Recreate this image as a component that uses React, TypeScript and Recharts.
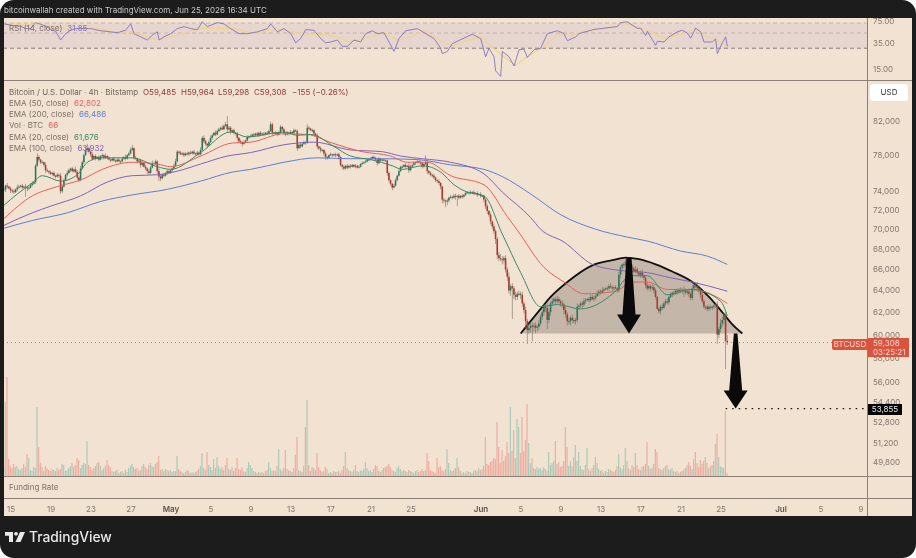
import {
  ComposedChart, Bar, Line, Area, XAxis, YAxis,
  ReferenceLine, ReferenceArea, ReferenceDot,
} from "recharts";

// 4h closes, USD, Bitstamp BTC/USD, one per bar
const closes = [
  74200,74600,74500,74300,74100,74000,73900,74200,74400,74500,74600,74400,74500,74400,74300,74400,74700,74800,75000,76800,
  77800,77500,77200,77200,76900,76300,76200,76100,75900,76000,75700,75600,75800,75700,74000,74500,75200,75800,76000,76300,
  76500,76200,76400,76100,75500,75200,76500,77200,78000,78600,78800,78400,78100,77600,77900,77600,77800,77500,77900,78000,
  77700,77900,77700,77500,77400,77600,77400,77300,77500,77300,77300,77600,77800,77600,78000,78200,78600,78800,77700,77600,
  77300,77400,76900,77100,76700,76500,76200,76000,76600,77100,77000,77300,76200,75600,75400,75800,75700,76000,76200,76000,
  76300,76500,76800,77300,78400,78300,78100,78200,78000,78200,78100,78300,78200,78400,78200,78100,78300,78100,78600,80000,
  79600,79300,79100,79500,80000,80300,80600,80400,80800,81000,81200,81000,81400,81600,81000,81200,80700,80900,80600,80500,
  80000,79600,79500,79300,79500,79700,80100,80200,80200,80400,80300,80500,80300,80600,80400,80500,80400,80600,80500,80800,
  81600,80600,80500,80600,80400,80600,81300,81000,80600,80400,80600,80500,80700,80600,80900,80800,78800,79200,79000,79300,
  79500,79400,81200,81100,80900,80900,80500,80300,79000,78800,78600,78600,78200,77800,77700,78000,78100,78000,78100,78000,
  78100,77800,76900,76700,76500,76800,76600,76800,76700,76900,76700,76800,76600,76700,77000,77100,77200,77300,77500,77500,
  77600,77800,77700,77500,77100,77600,77400,77500,77400,77400,76000,75200,74800,74400,74600,75200,75700,76200,76700,76700,
  76900,76700,76800,76300,76700,76900,77100,77200,77300,77200,77100,76700,77000,77200,76200,76000,75800,75700,75500,75200,
  75100,74900,74500,73100,73000,72900,73000,73300,73400,73300,73500,73400,73500,73300,73500,73400,73600,73800,73900,73800,
  73900,73900,73800,73800,73600,73700,73500,73500,73100,72400,71900,71500,70800,70300,69800,69000,67400,67100,67000,66900,
  67100,66000,65300,64000,64400,64200,63600,63400,63700,63700,63600,62800,62200,61200,60400,60600,60800,60700,60800,60600,
  60700,61000,61600,62000,62500,62400,61300,62000,62800,63000,63200,63000,63200,63000,62800,62700,62200,61800,61200,61200,
  61500,61300,61200,61300,62500,62600,62800,62700,63000,63100,63200,63100,63400,63200,63300,63500,63700,63900,63800,64000,
  64100,64200,64200,64400,64300,64200,64300,64200,64000,65500,66200,66500,66400,66800,67000,66000,66200,66100,65800,66000,
  65700,65500,65700,65400,65200,64500,64200,64400,64200,64300,64000,63400,62300,62100,62500,62400,62800,63000,62900,63400,
  63600,63800,63700,64000,63900,64100,64000,64100,64000,63800,63900,63700,63300,64200,64500,64400,64200,64000,63600,63000,
  62500,62500,62300,62500,62400,62500,62600,62700,60000,60500,61000,61300,61800,59460,59308,
];

// upper and lower shadow of each bar, in hundreds of USD
const wickUp = [
  2,1,3,1,2,1,2,1,3,2,1,2,1,3,2,1,2,3,1,2,
  4,2,1,2,1,3,2,1,2,1,2,1,2,1,3,2,2,1,3,2,
  1,2,1,3,2,1,3,2,2,4,5,2,1,3,1,2,1,2,1,2,
  1,3,1,2,1,1,2,1,1,2,1,2,1,3,1,2,3,4,1,2,
  1,2,1,2,1,2,1,2,2,3,1,2,1,3,2,1,2,1,2,1,
  2,1,2,3,2,1,2,1,2,1,2,1,2,1,2,1,2,1,3,2,
  3,2,1,2,3,2,1,3,2,2,1,3,2,3,10,2,2,1,2,1,
  2,1,2,1,2,1,2,1,2,1,2,1,2,1,2,1,2,1,2,2,
  3,2,1,2,1,2,2,1,2,1,2,1,2,1,2,1,2,1,2,1,
  2,1,4,2,1,2,1,1,2,1,2,1,1,2,1,1,2,1,1,2,
  1,2,1,1,2,1,2,1,2,1,1,2,1,2,1,2,1,2,1,1,
  2,1,2,1,1,2,1,1,1,1,1,2,1,1,2,2,1,2,1,2,
  1,2,1,3,2,1,2,1,2,1,2,1,1,8,2,1,2,1,2,1,
  1,2,1,1,2,1,2,1,2,1,2,2,1,2,1,2,1,2,1,1,
  2,1,2,1,2,1,2,1,1,2,2,1,2,1,3,2,2,3,4,3,
  2,3,2,4,2,3,2,3,2,3,2,3,2,3,2,4,3,3,2,3,
  2,3,2,2,3,2,4,3,2,3,2,2,3,2,2,3,2,3,2,3,
  2,3,2,2,3,1,2,2,3,2,1,2,2,3,2,2,3,2,2,3,
  2,1,2,2,3,2,1,2,1,3,2,1,2,3,2,2,2,3,2,3,
  2,1,2,3,2,1,3,2,2,3,2,2,1,2,2,3,2,2,3,1,
  2,1,2,1,2,1,2,1,3,2,2,3,2,3,2,2,4,3,2,3,
  2,1,2,1,2,1,2,1,3,2,4,3,2,2,5,
];
const wickDown = [
  2,3,2,1,3,2,2,1,2,2,1,2,1,10,3,2,1,2,1,2,
  1,2,2,1,2,3,1,2,1,2,1,2,1,2,3,2,1,1,2,1,
  2,1,2,1,3,2,1,1,2,1,2,1,3,2,1,2,1,2,1,1,
  2,1,2,1,2,1,1,2,1,1,2,1,1,2,1,1,1,1,2,1,
  2,1,3,2,1,2,3,2,1,1,2,1,3,5,3,1,2,1,2,1,
  1,2,1,1,1,2,1,1,2,1,1,2,1,1,2,1,1,2,1,1,
  2,2,3,1,1,2,1,2,1,1,2,1,1,1,3,1,3,1,2,2,
  3,2,2,3,1,1,1,2,1,1,2,1,1,2,1,1,2,1,1,1,
  1,3,1,1,2,1,1,2,3,2,1,2,1,2,1,1,3,1,2,1,
  1,2,1,2,1,2,3,1,3,2,3,2,3,3,2,1,1,2,1,2,
  1,3,2,3,2,1,2,1,2,1,1,2,1,1,1,1,1,1,1,1,
  1,1,2,2,3,1,2,1,1,1,3,2,2,3,1,1,1,1,1,2,
  1,2,1,3,1,1,1,2,1,1,2,2,1,1,3,2,2,2,2,2,
  2,2,3,4,3,6,4,2,1,2,1,3,10,2,1,2,1,1,1,2,
  1,1,2,1,2,1,2,1,3,3,3,2,3,3,3,5,4,3,2,4,
  3,3,4,3,5,28,4,3,3,2,4,3,3,6,12,3,4,13,4,5,
  3,3,2,3,3,4,8,3,3,2,2,3,2,2,3,3,4,3,4,3,
  4,3,2,3,2,3,2,3,2,2,1,2,2,1,2,2,1,2,2,1,
  2,1,2,2,1,3,2,1,2,2,3,2,3,2,2,3,2,2,2,2,
  2,2,3,2,2,3,2,2,3,2,3,2,1,2,3,2,1,2,2,2,
  1,2,2,1,3,2,2,3,6,2,2,3,2,2,3,2,3,2,3,2,
  2,3,2,2,2,2,2,2,8,3,3,3,4,24,2,
];

// Bitstamp volume per bar, BTC
const volumes = [
  200,1480,1980,340,200,160,240,180,200,140,120,160,240,180,440,360,120,100,180,160,
  1380,580,260,180,100,200,160,120,100,140,120,100,160,120,140,240,220,100,120,160,
  200,260,180,220,360,320,160,220,260,240,700,220,180,120,160,200,260,280,200,120,
  160,200,320,220,180,100,80,100,120,60,80,100,60,120,80,160,200,240,180,140,
  160,100,120,200,240,180,140,220,260,200,180,240,280,400,120,140,100,140,120,100,
  120,80,100,100,400,140,100,80,60,80,120,100,60,80,60,80,100,140,200,460,
  160,120,480,220,180,120,340,160,380,200,140,180,120,220,360,140,120,180,100,160,
  360,140,120,180,100,80,160,280,220,160,100,80,60,80,60,80,60,100,120,280,
  160,100,120,100,200,540,140,100,160,520,140,120,100,80,160,420,780,120,100,80,
  200,980,1520,220,100,180,160,120,460,180,120,80,100,180,140,60,80,60,100,80,
  80,100,60,120,200,480,160,120,100,80,120,220,100,80,120,100,140,280,160,100,
  120,80,140,220,200,100,80,120,160,180,200,240,180,120,100,80,160,200,140,100,
  120,100,80,120,100,80,60,100,120,80,100,140,100,120,460,300,120,100,80,60,
  360,180,200,120,100,140,540,260,120,100,120,160,360,180,100,60,80,60,100,80,
  80,60,100,120,100,160,120,140,200,780,240,220,280,300,360,340,1080,580,260,520,
  300,400,680,460,1380,500,920,360,1140,980,460,1180,500,720,1440,660,260,360,160,140,
  180,140,160,120,180,140,100,480,220,260,300,700,240,280,180,200,300,980,580,200,
  300,200,380,620,300,480,200,140,120,220,560,140,100,160,220,380,260,140,100,120,
  60,100,80,140,120,100,80,120,200,440,180,140,220,560,300,160,120,220,180,460,
  220,140,120,180,200,240,680,200,140,160,240,540,480,160,140,120,160,200,220,140,
  120,160,100,80,100,60,80,100,120,160,220,280,200,140,340,480,260,180,320,240,
  300,380,260,160,200,220,300,640,840,380,200,180,160,1300,66,
];

// [bar, price] readings along each moving average
const ema20 = [[0,72500],[8,73700],[17,74900],[23,75700],[34,75100],[44,75800],[50,77200],[58,77700],[77,77700],[92,76700],[100,76400],[118,78300],[136,80700],[146,80100],[168,80700],[176,80300],[184,80400],[198,79000],[208,77900],[220,77500],[233,76800],[239,76400],[251,76800],[262,76100],[270,74700],[278,73900],[288,73500],[299,69500],[310,65700],[322,62500],[332,62700],[346,62300],[366,63800],[376,65400],[386,65400],[398,63600],[413,64100],[430,63000],[434,61676]];
const ema50 = [[0,71100],[17,73500],[32,74500],[47,75300],[59,76400],[77,77200],[92,77000],[100,76700],[118,77900],[137,79400],[148,79500],[168,80500],[182,80400],[197,79400],[215,78400],[232,77900],[242,77200],[254,77200],[268,75700],[288,74700],[302,71300],[308,69900],[324,66200],[336,64800],[348,63700],[366,63900],[378,64800],[386,64800],[398,64100],[413,64100],[425,63600],[434,62802]];
const ema100 = [[0,70400],[17,71700],[28,72400],[46,73500],[62,75000],[77,75700],[92,75800],[104,76200],[118,77000],[134,77900],[148,78300],[168,79200],[186,79500],[208,78600],[227,78400],[238,77900],[251,77600],[268,77200],[288,75900],[299,73900],[316,71200],[322,70000],[336,68700],[353,66500],[370,65900],[386,65700],[400,65200],[413,64800],[434,63932]];
const ema200 = [[0,70100],[17,70900],[38,71700],[58,72900],[77,73600],[98,74200],[118,75100],[137,76100],[148,76400],[168,77200],[188,77700],[208,77600],[227,77600],[248,77500],[268,76900],[288,76400],[299,75600],[316,73700],[334,71500],[355,70000],[374,69200],[386,68800],[406,67800],[422,67300],[434,66486]];

// rounded-top drawing on the chart, [bar, price]
const domeBase = 60100;
const dome = [[310,60100],[322,62300],[328,63400],[338,64800],[353,66400],[365,66900],[373,67150],[381,67000],[391,66500],[401,65800],[413,64800],[423,63400],[431,62000],[437,60900],[443,60100]];

const rsi14 = [[0,68],[3,66],[6,64],[10,63],[13,58],[16,58],[19,71],[22,67],[25,63],[28,56],[31,53],[34,39.5],[37,49],[40,55],[43,58],[48,58],[52,58],[58,54],[64,52],[68,50.5],[73,55],[76,68],[78,49],[82,44],[86,39.5],[89,46.6],[92,52],[93,39.5],[96,44],[100,49],[104,58],[108,62],[112,58],[116,56],[119,73],[122,62],[128,71],[132,68],[136,58],[141,49],[146,49],[152,52],[158,58],[160,68],[164,52],[168,58],[172,49],[175,36],[178,41.5],[181,56],[186,55],[190,41.5],[193,36],[196,37],[200,39.5],[203,32],[206,32],[210,39.5],[214,37],[217,49],[221,54],[224,49],[228,50.5],[231,37],[234,27],[237,41.5],[241,54],[248,58],[253,49],[258,41.5],[262,30],[263,25],[266,27],[269,35],[273,39],[281,48],[286,41.5],[289,22.5],[291,30],[294,22.5],[295,14],[298,11.6],[299,27],[303,22.5],[306,16.5],[309,28.4],[312,29],[314,22],[318,28.4],[322,30],[326,49],[332,54],[336,49],[338,38.6],[343,44],[345,49],[354,56.5],[368,62],[370,71],[374,73],[380,58.5],[382,59],[385,46],[386,53],[388,44],[391,33],[392,38],[396,37],[399,44],[404,52],[407,55],[410,50],[412,42],[415,59],[418,52],[420,37],[425,37],[427,41],[428,25],[431,36],[433,44],[434,31.85]];
const rsiMa = [[0,65.6],[18,65.6],[38,58.5],[52,61.7],[66,52],[78,52],[92,39.5],[104,46.6],[118,58.5],[138,58.5],[150,49],[164,58.5],[178,49],[196,46.6],[208,37.3],[220,44],[228,50.5],[236,39.5],[244,44],[252,54],[262,38.6],[268,32],[276,37.3],[286,44],[292,32],[300,22.5],[307,17],[314,22.5],[324,31.8],[332,46.6],[340,46.6],[348,52],[356,56],[366,62],[374,68],[382,58.5],[388,52],[396,42],[404,46],[410,52],[415,57],[420,46],[428,39.5],[434,32]];

const priceTicks = [82000, 78000, 74000, 72000, 70000, 68000, 66000, 64000, 62000, 60000, 58000, 56000, 54400, 52800, 51200, 49800];
const rsiTicks = [75, 35, 15];
const timeTicks = [4.2, 28.2, 52.2, 76.2, 100.2, 124.2, 148.2, 172.2, 196.2, 220.2, 244.2, 286.2, 310.2, 334.2, 358.2, 382.2, 406.2, 430.2, 466.2, 490.2, 514.2];
const timeLabels = ["15", "19", "23", "27", "May", "5", "9", "13", "17", "21", "25", "Jun", "5", "9", "13", "17", "21", "25", "Jul", "5", "9"];

const lastPrice = 59308;
const targetPrice = 53855;
const slots = 518.4;

const BG = "#f2e2d2";
const FONT = "Inter, 'Noto Sans', sans-serif";
const AXIS_TEXT = "#81766c";
const PANE_LINE = "#8c8076";
const TEXT_SIZE = 8;

const UP = "#2f7558";
const DOWN = "#a93a2e";

const lookup = (pts: number[][]) => new Map(pts.map(([i, v]) => [i, v]));

const e20 = lookup(ema20);
const e50 = lookup(ema50);
const e100 = lookup(ema100);
const e200 = lookup(ema200);
const domeAt = lookup(dome);

const rows: any[] = [];
for (let i = 0; i <= 443; i++) {
  const row: any = { i, e20: e20.get(i), e50: e50.get(i), e100: e100.get(i), e200: e200.get(i), dome: domeAt.get(i) };
  if (i < closes.length) {
    const close = closes[i];
    const open = i === 0 ? close : closes[i - 1];
    const high = Math.max(open, close) + wickUp[i] * 100;
    const low = Math.min(open, close) - wickDown[i] * 100;
    row.open = open;
    row.close = close;
    row.high = high;
    row.low = low;
    row.range = [low, high];
    row.vol = volumes[i];
  }
  rows.push(row);
}

const rsiAt = lookup(rsi14);
const maAt = lookup(rsiMa);
const rsiRows: any[] = [];
for (let i = 0; i <= 434; i++) {
  if (rsiAt.has(i) || maAt.has(i)) rsiRows.push({ i, rsi: rsiAt.get(i), ma: maAt.get(i) });
}

function Candle(props: any) {
  const { x, y, width, height, payload } = props;
  if (payload?.open == null) return null;
  const cx = x + width / 2;
  const hi = Math.log(payload.high);
  const lo = Math.log(payload.low);
  const toPx = (p: number) => y + (height * (hi - Math.log(p))) / (hi - lo);
  const up = payload.close >= payload.open;
  const top = toPx(Math.max(payload.open, payload.close));
  const bottom = toPx(Math.min(payload.open, payload.close));
  return (
    <g>
      <rect x={cx - 0.35} y={y} width={0.7} height={height} fill="#6f6a60" opacity={0.8} />
      <rect x={cx - 0.8} y={top} width={1.6} height={Math.max(bottom - top, 1)} fill={up ? UP : DOWN} />
    </g>
  );
}

function VolBar(props: any) {
  const { x, y, width, height, payload } = props;
  if (payload?.vol == null) return null;
  const up = payload.close >= payload.open;
  return <rect x={x + width / 2 - 0.55} y={y} width={1.1} height={height} fill={up ? "#a6c8b6" : "#eda89c"} />;
}

function DownArrow(props: any) {
  const { cx, cy } = props;
  const [shaftTop, headTop, topHalf] = props.len;
  return (
    <polygon
      points={`${cx - topHalf},${cy - shaftTop} ${cx + topHalf},${cy - shaftTop} ${cx + 6.5},${cy - headTop} ${cx + 12},${cy - headTop} ${cx},${cy} ${cx - 12},${cy - headTop} ${cx - 6.5},${cy - headTop}`}
      fill="#0a0a0a"
    />
  );
}

function TimeTick(props: any) {
  const { x, y, payload } = props;
  const label = timeLabels[timeTicks.indexOf(payload.value)];
  const month = label === "May" || label === "Jun" || label === "Jul";
  return (
    <text x={x} y={y + 5} textAnchor="middle" fontSize={TEXT_SIZE} fontFamily={FONT} fontWeight={month ? 600 : 400} fill={month ? "#5d544c" : AXIS_TEXT}>
      {label}
    </text>
  );
}

const abs = (left: number, top: number, extra?: any) => ({ position: "absolute" as const, left, top, ...extra });

function Legend({ top, label, value, color }: { top: number; label: string; value?: string; color?: string }) {
  return (
    <div style={abs(9, top, { fontSize: TEXT_SIZE, lineHeight: "12px", color: "#7b7067", whiteSpace: "pre" })}>
      {label}
      {value && <span style={{ color, marginLeft: 5 }}>{value}</span>}
    </div>
  );
}

function Quote({ left, text }: { left: number; text: string }) {
  return <div style={abs(left, 86, { fontSize: TEXT_SIZE, lineHeight: "12px", color: "#8a3b30", whiteSpace: "pre" })}>{text}</div>;
}

export default function App() {
  return (
    <div style={abs(0, 0, { width: 916, height: 558, background: "#fff", fontFamily: FONT, overflow: "hidden", filter: "blur(0.3px)" })}>
      <div style={abs(0, 0, { width: 916, height: 558, background: "#1c1c1c", borderRadius: 14 })} />
      <div style={abs(4, 4, { fontSize: TEXT_SIZE, lineHeight: "12px", color: "#c9c9c9", whiteSpace: "pre" })}>
        bitcoinwallah created with TradingView.com, Jun 25, 2026 16:34 UTC
      </div>

      <div style={abs(4, 18, { width: 908, height: 498, background: BG })} />

      {/* RSI pane */}
      <div style={abs(4, 18)}>
        <ComposedChart width={908} height={62} data={rsiRows} margin={{ top: 0, right: 0, bottom: 0, left: 0 }}>
          <XAxis dataKey="i" type="number" domain={[0, slots]} hide />
          <YAxis
            orientation="right"
            width={44}
            scale="log"
            domain={[10.3, 82.9]}
            allowDataOverflow
            ticks={rsiTicks}
            interval={0}
            tickFormatter={(v) => Number(v).toFixed(2)}
            tick={{ fill: AXIS_TEXT, fontSize: TEXT_SIZE, fontFamily: FONT }}
            tickLine={false}
            tickSize={0}
            axisLine={false}
            tickMargin={5}
          />
          <ReferenceArea y1={30} y2={70} fill="#8a5fc0" fillOpacity={0.1} stroke="none" />
          <ReferenceLine y={70} stroke="#b3a69d" strokeDasharray="4 3" strokeOpacity={0.7} />
          <ReferenceLine y={50} stroke="#b3a69d" strokeDasharray="4 3" strokeOpacity={0.7} />
          <ReferenceLine y={30} stroke="#8f8279" strokeDasharray="4 3" />
          <Line dataKey="ma" stroke="#efd58c" strokeWidth={1.3} dot={false} connectNulls isAnimationActive={false} />
          <Line dataKey="rsi" stroke="#8273c0" strokeWidth={0.9} dot={false} connectNulls isAnimationActive={false} />
        </ComposedChart>
      </div>

      {/* price + volume pane */}
      <div style={abs(4, 82)}>
        <ComposedChart width={908} height={394} data={rows} margin={{ top: 0, right: 0, bottom: 0, left: 0 }}>
          <XAxis dataKey="i" type="number" domain={[0, slots]} hide />
          <XAxis xAxisId="vol" dataKey="i" type="number" domain={[0, slots]} hide />
          <YAxis
            orientation="right"
            width={44}
            scale="log"
            domain={[48800, 86810]}
            allowDataOverflow
            ticks={priceTicks}
            interval={0}
            tickFormatter={(v) => Number(v).toLocaleString("en-US")}
            tick={{ fill: AXIS_TEXT, fontSize: TEXT_SIZE, fontFamily: FONT }}
            tickLine={false}
            tickSize={0}
            axisLine={false}
            tickMargin={5}
          />
          <YAxis yAxisId="vol" orientation="right" hide domain={[0, 7880]} />
          <Bar xAxisId="vol" yAxisId="vol" dataKey="vol" barSize={1} shape={VolBar} isAnimationActive={false} />
          <ReferenceLine y={lastPrice} stroke="#e2705f" strokeDasharray="1 3" />
          <Line dataKey="e200" stroke="#5b7fd6" strokeWidth={1} dot={false} connectNulls type="monotone" isAnimationActive={false} />
          <Line dataKey="e100" stroke="#7f62bb" strokeWidth={1} dot={false} connectNulls type="monotone" isAnimationActive={false} />
          <Line dataKey="e50" stroke="#e8605c" strokeWidth={1} dot={false} connectNulls type="monotone" isAnimationActive={false} />
          <Line dataKey="e20" stroke="#3c8a68" strokeWidth={1} dot={false} connectNulls type="monotone" isAnimationActive={false} />
          <Bar dataKey="range" barSize={2} shape={Candle} isAnimationActive={false} />
          <Area
            dataKey="dome"
            baseValue={domeBase}
            type="monotone"
            connectNulls
            stroke="#111"
            strokeWidth={1.8}
            fill="#5a4f48"
            fillOpacity={0.3}
            dot={false}
            isAnimationActive={false}
          />
          <ReferenceLine
            segment={[{ x: 433, y: targetPrice }, { x: slots, y: targetPrice }]}
            stroke="#111"
            strokeWidth={1.2}
            strokeDasharray="1.5 5"
          />
          <ReferenceDot x={375} y={domeBase} r={0} ifOverflow="visible" shape={(p: any) => <DownArrow {...p} len={[76, 19, 2.5]} />} />
          <ReferenceDot x={439} y={targetPrice} r={0} ifOverflow="visible" shape={(p: any) => <DownArrow {...p} len={[75, 18, 1.8]} />} />
        </ComposedChart>
      </div>

      {/* time scale */}
      <div style={abs(4, 498)}>
        <ComposedChart width={864} height={18} data={rows} margin={{ top: 0, right: 0, bottom: 0, left: 0 }}>
          <XAxis
            dataKey="i"
            type="number"
            domain={[0, slots]}
            ticks={timeTicks}
            interval={0}
            height={17}
            tick={TimeTick}
            tickLine={false}
            axisLine={false}
          />
          <YAxis hide domain={[0, 1]} />
        </ComposedChart>
      </div>

      {/* pane separators */}
      <div style={abs(4, 80, { width: 908, height: 1, background: PANE_LINE })} />
      <div style={abs(4, 476, { width: 908, height: 1, background: PANE_LINE })} />
      <div style={abs(4, 498, { width: 908, height: 1, background: PANE_LINE })} />
      <div style={abs(867, 18, { width: 1, height: 498, background: PANE_LINE })} />

      {/* legends */}
      <div style={abs(9, 22, { fontSize: TEXT_SIZE, lineHeight: "12px", color: "#7b7067", whiteSpace: "pre" })}>
        RSI (14, close)<span style={{ color: "#8273c0", marginLeft: 5 }}>31.85</span>
      </div>
      <div style={abs(9, 86, { fontSize: TEXT_SIZE, lineHeight: "12px", color: "#6f645b", whiteSpace: "pre" })}>
        Bitcoin / U.S. Dollar · 4h · Bitstamp
      </div>
      <Quote left={143} text="O59,485" />
      <Quote left={181} text="H59,964" />
      <Quote left={218} text="L59,298" />
      <Quote left={254} text="C59,308" />
      <Quote left={292} text="−155 (−0.26%)" />
      <Legend top={97} label="EMA (50, close)" value="62,802" color="#e8605c" />
      <Legend top={108} label="EMA (200, close)" value="66,486" color="#5b7fd6" />
      <Legend top={119} label="Vol · BTC" value="66" color="#e8605c" />
      <Legend top={131} label="EMA (20, close)" value="61,676" color="#3c8a68" />
      <Legend top={142} label="EMA (100, close)" value="63,932" color="#7f62bb" />
      <div style={abs(9, 481, { fontSize: TEXT_SIZE, lineHeight: "12px", color: "#7b7067" })}>Funding Rate</div>

      {/* scale badges */}
      <div style={abs(870, 84, { width: 38, height: 17, background: "#fff", borderRadius: 3, fontSize: TEXT_SIZE, lineHeight: "17px", textAlign: "center", color: "#3a3a3a" })}>USD</div>
      <div style={abs(832, 339, { width: 36, height: 11, background: "#d9533f", borderRadius: "2px 0 0 2px", fontSize: TEXT_SIZE, lineHeight: "11px", textAlign: "center", color: "#f6dcd0" })}>BTCUSD</div>
      <div style={abs(868, 338, { width: 41, height: 19, background: "#d9533f", fontSize: TEXT_SIZE, lineHeight: "9px", paddingLeft: 5, paddingTop: 0.5, boxSizing: "border-box", color: "#f6dcd0" })}>
        59,308
        <br />
        03:25:21
      </div>
      <div style={abs(868, 404, { width: 34, height: 11, background: "#050505", fontSize: TEXT_SIZE, lineHeight: "11px", textAlign: "center", color: "#f0f0f0" })}>53,855</div>

      {/* brand */}
      <svg style={abs(5, 532)} width={20} height={10} viewBox="0 0 20 11" preserveAspectRatio="none">
        <path d="M0 0H8V11H4V4H0Z M15 0H20L15.5 11H10.5Z" fill="#e8e8e8" />
        <circle cx={11} cy={2} r={2} fill="#e8e8e8" />
      </svg>
      <div style={abs(29, 527, { fontSize: 13.8, lineHeight: "20px", fontWeight: 500, color: "#e8e8e8" })}>TradingView</div>
    </div>
  );
}
